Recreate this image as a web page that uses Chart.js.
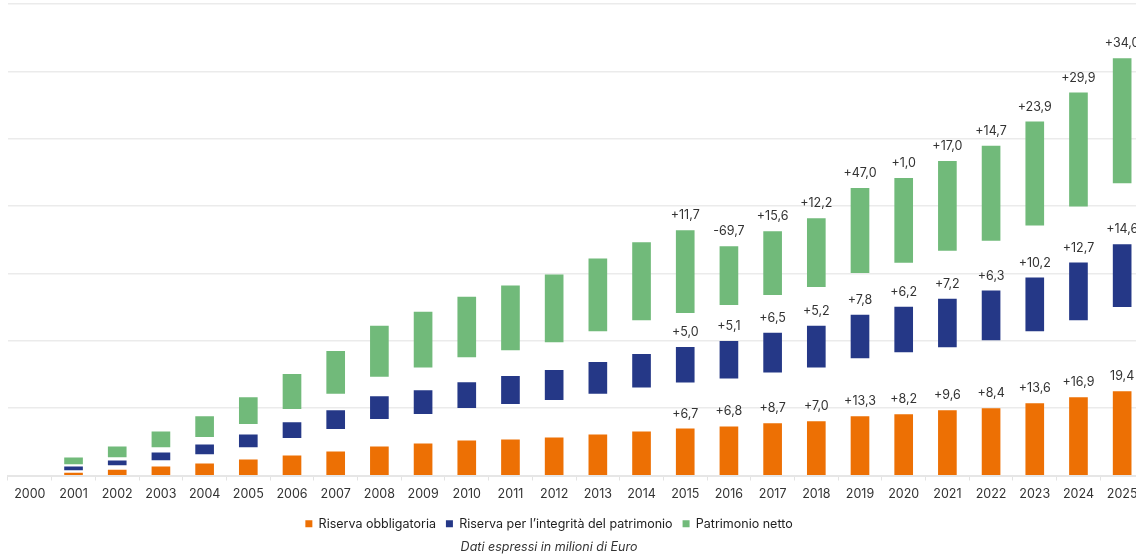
<!DOCTYPE html>
<html lang="it">
<head>
<meta charset="utf-8">
<script src="https://cdn.jsdelivr.net/npm/chart.js@4/dist/chart.umd.min.js"></script>
<style>
  html, body { margin: 0; padding: 0; background: #fff; overflow: hidden; }
  #wrap { width: 1144px; height: 558px; position: relative; }
</style>
</head>
<body>
<div id="wrap"><canvas id="riserve-chart"></canvas></div>
<script>
// Anni
const years = ['2000','2001','2002','2003','2004','2005','2006','2007','2008','2009','2010','2011','2012',
  '2013','2014','2015','2016','2017','2018','2019','2020','2021','2022','2023','2024','2025'];

// Riserva obbligatoria (barra dalla base)
const riservaObbl = [null, 3.7, 8.2, 12.7, 17.2, 23.1, 29.1, 35.1, 42.6, 47.0, 51.5, 53.0, 56.0,
  60.5, 65.0, 69.4, 72.4, 76.9, 79.9, 87.4, 90.3, 96.3, 99.3, 106.8, 115.7, 124.7];

// Riserva per l'integrita' del patrimonio (inizio / fine barra)
const riservaIntegrLow = [null, 8.2, 15.7, 23.1, 32.1, 42.6, 56.0, 69.4, 84.4, 91.8, 100.8, 106.8, 112.7,
  121.7, 131.1, 138.6, 144.5, 153.5, 161.0, 174.4, 183.4, 190.8, 201.3, 214.7, 231.1, 250.6];
const riservaIntegrHigh = [null, 12.7, 21.7, 33.6, 45.5, 60.5, 78.4, 96.3, 117.2, 126.2, 138.1, 147.1, 156.0,
  168.0, 179.9, 190.4, 199.3, 211.3, 221.7, 238.2, 250.1, 262.1, 274.0, 293.4, 315.8, 342.7];

// Patrimonio netto (inizio / fine barra)
const patrimonioLow = [null, 17.2, 27.6, 42.6, 57.5, 76.9, 99.3, 121.7, 147.1, 161.0, 175.9, 186.4, 198.3,
  214.7, 231.1, 241.6, 253.5, 268.5, 280.4, 301.3, 316.3, 334.2, 349.1, 371.5, 399.9, 434.2];
const patrimonioHigh = [null, 26.1, 42.6, 65.0, 87.4, 115.7, 150.1, 184.4, 221.7, 242.6, 265.0, 281.5, 297.9,
  321.8, 345.7, 363.6, 339.7, 362.1, 381.5, 426.3, 441.2, 466.6, 489.0, 524.9, 568.2, 619.0];

// Variazioni annue scritte sopra le barre (dal 2015)
const blank15 = new Array(15).fill(null);
const labelsObbl = blank15.concat(['+6,7','+6,8','+8,7','+7,0','+13,3','+8,2','+9,6','+8,4','+13,6','+16,9','19,4']);
const labelsIntegr = blank15.concat(['+5,0','+5,1','+6,5','+5,2','+7,8','+6,2','+7,2','+6,3','+10,2','+12,7','+14,6']);
const labelsPatr = blank15.concat(['+11,7','-69,7','+15,6','+12,2','+47,0','+1,0','+17,0','+14,7','+23,9','+29,9','+34,0']);

const FONT = 'Inter, "Noto Sans", sans-serif';

const rangeOf = (lo, hi) => lo.map((v, i) => (v === null ? null : [v, hi[i]]));

// scrive le variazioni sopra ogni barra
const barLabels = {
  id: 'barLabels',
  afterDatasetsDraw(chart) {
    const ctx = chart.ctx;
    ctx.save();
    ctx.font = '12.5px ' + FONT;
    ctx.fillStyle = '#333333';
    ctx.textAlign = 'center';
    ctx.textBaseline = 'middle';
    chart.data.datasets.forEach((ds, i) => {
      const meta = chart.getDatasetMeta(i);
      meta.data.forEach((bar, j) => {
        const txt = ds.valueLabels[j];
        if (txt) ctx.fillText(txt, bar.x, bar.y - 15);
      });
    });
    ctx.restore();
  }
};

// legenda e nota un po' a sinistra del centro
const footerShift = {
  id: 'footerShift',
  afterLayout(chart) {
    [chart.legend, chart.titleBlock].forEach(b => {
      if (!b) return;
      b.left -= 27;
      b.right -= 27;
    });
  }
};

const ctx = document.getElementById('riserve-chart').getContext('2d');
const riserveChart = new Chart(ctx, {
  type: 'bar',
  data: {
    labels: years,
    datasets: [
      {
        label: 'Riserva obbligatoria',
        data: riservaObbl,
        valueLabels: labelsObbl,
        backgroundColor: '#ED7004',
      },
      {
        label: 'Riserva per l\u2019integrit\u00e0 del patrimonio',
        data: rangeOf(riservaIntegrLow, riservaIntegrHigh),
        valueLabels: labelsIntegr,
        backgroundColor: '#253887',
      },
      {
        label: 'Patrimonio netto',
        data: rangeOf(patrimonioLow, patrimonioHigh),
        valueLabels: labelsPatr,
        backgroundColor: '#71BA7A',
      }
    ]
  },
  options: {
    responsive: true,
    maintainAspectRatio: false,
    animation: false,
    datasets: {
      bar: { grouped: false, barThickness: 18 }
    },
    layout: { padding: { left: 8, right: 0, top: 4, bottom: 0 } },
    plugins: {
      tooltip: { enabled: false },
      legend: {
        position: 'bottom',
        labels: {
          boxWidth: 7,
          boxHeight: 7,
          padding: 10,
          color: '#222222',
          font: { family: FONT, size: 12.5 }
        }
      },
      title: {
        display: true,
        position: 'bottom',
        text: 'Dati espressi in milioni di Euro',
        color: '#333333',
        font: { family: FONT, size: 12.5, style: 'italic', weight: 'normal' },
        padding: { top: 0, bottom: 3 }
      }
    },
    scales: {
      x: {
        grid: {
          offset: true,
          drawOnChartArea: false,
          drawTicks: true,
          tickLength: 5,
          color: '#e3e3e3'
        },
        border: { color: '#e6e6e6', width: 2 },
        ticks: {
          color: '#333333',
          padding: 6,
          maxRotation: 0,
          autoSkip: false,
          font: { family: FONT, size: 12.5 }
        }
      },
      y: {
        min: 0,
        max: 700,
        ticks: { display: false, stepSize: 100 },
        border: { display: false },
        grid: { color: '#ebebeb', lineWidth: 1.5, drawTicks: false }
      }
    }
  },
  plugins: [barLabels, footerShift]
});
</script>
</body>
</html>
